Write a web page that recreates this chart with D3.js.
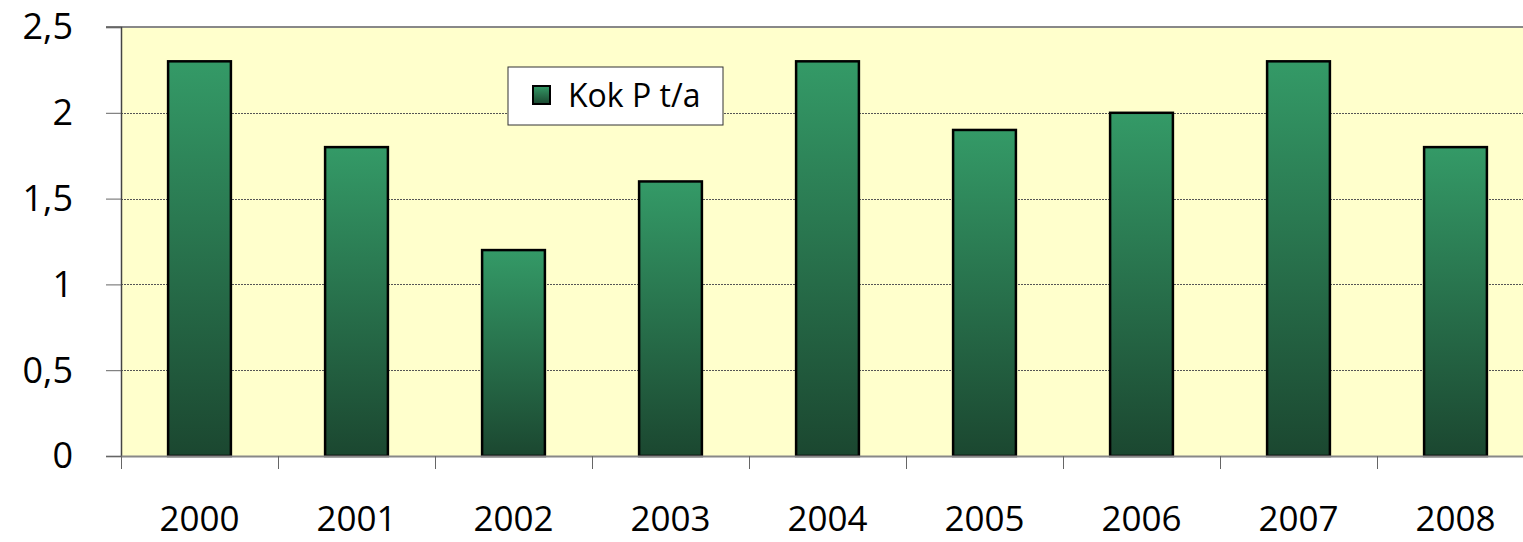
<!DOCTYPE html>
<head>
  <meta charset="utf-8">
  <style>
    body { margin: 0; background: #fff; }
    svg text {
      font-family: "Comic Sans MS", "Open Sans", sans-serif;
      fill: #000;
    }
    .grid line {
      stroke: #555;
      stroke-width: 1;
      stroke-dasharray: 2,1;
    }
    .bar {
      stroke: #000;
      stroke-width: 2.5;
    }
  </style>
  <script src="https://d3js.org/d3.v7.min.js"></script>
</head>

<body>
  <div id="content"></div>
  <script>
  var years = ["2000", "2001", "2002", "2003", "2004", "2005", "2006", "2007", "2008"];
  var kokP = [2.3, 1.8, 1.2, 1.6, 2.3, 1.9, 2.0, 2.3, 1.8];
  var yTicks = [0, 0.5, 1, 1.5, 2, 2.5];
  var seriesName = "Kok P t/a";

  var data = years.map(function(y, i) { return {year: y, value: kokP[i]}; });

  // plot area (right edge runs past the window, like the original)
  var margin = {top: 27, left: 121},
      width = 1413,
      height = 429;

  var svg = d3.select("#content").append("svg")
      .attr("width", 1523)
      .attr("height", 542);

  var defs = svg.append("defs");
  var grad = defs.append("linearGradient")
      .attr("id", "barGrad")
      .attr("x1", 0).attr("y1", 0)
      .attr("x2", 0).attr("y2", 1);
  grad.append("stop").attr("offset", "0%").attr("stop-color", "#349a67");
  grad.append("stop").attr("offset", "100%").attr("stop-color", "#1b4730");

  var x = d3.scaleBand()
      .domain(years)
      .range([0, width])
      .padding(0);

  var y = d3.scaleLinear()
      .domain([0, 2.5])
      .range([height, 0]);

  var g = svg.append("g")
      .attr("transform", "translate(" + margin.left + "," + margin.top + ")");

  // background
  g.append("rect")
      .attr("width", width)
      .attr("height", height)
      .attr("fill", "#ffffcc");

  // gridlines
  g.append("g")
      .attr("class", "grid")
    .selectAll("line")
      .data(yTicks.filter(function(d) { return d > 0 && d < 2.5; }))
    .enter().append("line")
      .attr("x1", 0)
      .attr("x2", width)
      .attr("y1", function(d) { return Math.round(y(d)) + 0.5; })
      .attr("y2", function(d) { return Math.round(y(d)) + 0.5; });

  // top border
  g.append("line")
      .attr("x1", -15).attr("x2", width)
      .attr("y1", 0).attr("y2", 0)
      .attr("stroke", "#888")
      .attr("stroke-width", 2);

  // bars
  var bw = x.bandwidth() * 0.4;
  g.selectAll(".bar")
      .data(data)
    .enter().append("rect")
      .attr("class", "bar")
      .attr("fill", "url(#barGrad)")
      .attr("x", function(d) { return x(d.year) + (x.bandwidth() - bw) / 2; })
      .attr("width", bw)
      .attr("y", function(d) { return y(d.value); })
      .attr("height", function(d) { return height - y(d.value); });

  // y axis
  var yAxis = g.append("g")
      .call(d3.axisLeft(y)
              .tickValues(yTicks)
              .tickSize(15)
              .tickPadding(33)
              .tickFormat(function(d) { return String(d).replace(".", ","); }));
  yAxis.select(".domain").attr("stroke", "#444").attr("stroke-width", 1.5);
  yAxis.selectAll(".tick line").attr("stroke", "#666");
  yAxis.selectAll(".tick text")
      .style("font-size", "36px")
      .attr("dy", "0.33em");

  // x axis
  var xAxis = g.append("g")
      .attr("transform", "translate(0," + height + ")")
      .call(d3.axisBottom(x).tickSize(0).tickPadding(50));
  xAxis.select(".domain").attr("stroke", "#888").attr("stroke-width", 2);
  xAxis.selectAll(".tick text").style("font-size", "35px");

  // x tick marks at category boundaries
  xAxis.selectAll(".sep")
      .data(years)
    .enter().append("line")
      .attr("class", "sep")
      .attr("x1", function(d) { return x(d) + 0.5; })
      .attr("x2", function(d) { return x(d) + 0.5; })
      .attr("y1", 0)
      .attr("y2", 13)
      .attr("stroke", "#666");

  // legend
  var legend = svg.append("g")
      .attr("transform", "translate(508,67)");
  legend.append("rect")
      .attr("width", 215)
      .attr("height", 58)
      .attr("fill", "#fff")
      .attr("stroke", "#333")
      .attr("stroke-width", 1);
  legend.append("rect")
      .attr("x", 25)
      .attr("y", 19)
      .attr("width", 17)
      .attr("height", 18)
      .attr("fill", "url(#barGrad)")
      .attr("stroke", "#000")
      .attr("stroke-width", 2);
  legend.append("text")
      .attr("x", 60)
      .attr("y", 29)
      .attr("dy", "0.35em")
      .style("font-size", "32px")
      .text(seriesName);
  </script>
</body>
</html>
